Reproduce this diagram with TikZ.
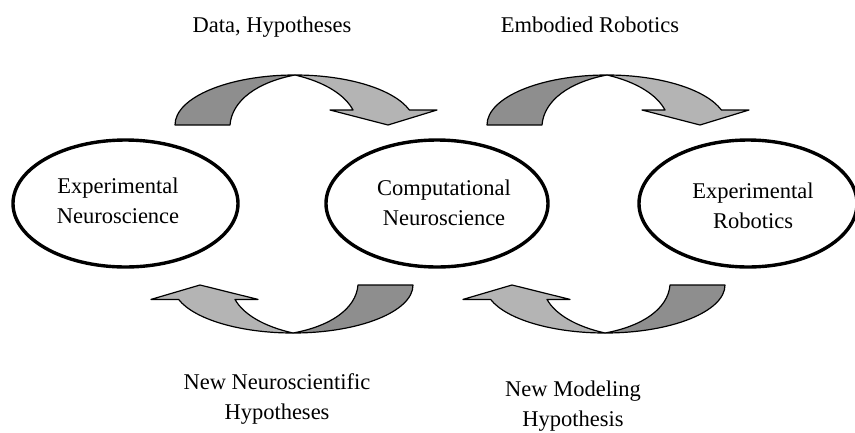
\documentclass[tikz,border=0pt]{standalone}
\usepackage{fontspec}
\setmainfont{Liberation Serif}
\usetikzlibrary{shapes.geometric}

\definecolor{bandback}{RGB}{142,142,142}
\definecolor{bandfront}{RGB}{180,180,180}

\tikzset{
  field/.style={ellipse, draw, line width=3.4pt, minimum width=#1,
    minimum height=127pt, inner sep=0pt},
  areatext/.style={font=\fontsize{22.5}{30}\selectfont, align=center, inner sep=0pt},
  bandline/.style={draw=black, line width=1.2pt, line join=round},
  % curved ribbon arrow; origin is the crest where the two bands cross
  bendarrow/.pic={
    \path[bandline, fill=bandback]
      (-120,50) .. controls (-120,22.4) and (-66.3,0) .. (0,0)
      .. controls (-37,7) and (-63,25) .. (-65,50) -- cycle;
    \path[bandline, fill=bandfront]
      (0,0) .. controls (52.4,0) and (98.7,14.1) .. (114.4,35)
      -- (142,35) -- (93,50) -- (35,35) -- (58,35)
      .. controls (50,20) and (30,7) .. (0,0) -- cycle;
  }
}

\begin{document}
\begin{tikzpicture}[x=1pt, y=-1pt]
  \useasboundingbox (0,0) rectangle (855,432);

  % research fields
  \node[field=225pt] (expneuro) at (125.5,203.5) {};
  \node[field=222pt] (compneuro) at (437,203.5) {};
  \node[field=218pt] (exprobo) at (748,203.5) {};

  % two-line texts: base anchor sits on the last line
  \node[areatext, anchor=base] (expneurotext) at (118,223) {Experimental\\Neuroscience};
  \node[areatext, anchor=base] (compneurotext) at (444,225) {Computational\\Neuroscience};
  \node[areatext, anchor=base] (exprobotext) at (753,228) {Experimental\\Robotics};

  % exchanges between the fields
  \pic (dataarrow) at (295,75) {bendarrow};
  \pic (embodiedarrow) at (607,75) {bendarrow};
  \pic[rotate=180, yscale=0.96] (neuroarrow) at (293,333) {bendarrow};
  \pic[rotate=180, yscale=0.96] (modelarrow) at (605,333) {bendarrow};

  \node[areatext, anchor=base] (datatext) at (272,32) {Data, Hypotheses};
  \node[areatext, anchor=base] (embodiedtext) at (590,32) {Embodied Robotics};
  \node[areatext, anchor=base] (neurotext) at (277,419) {New Neuroscientific\\Hypotheses};
  \node[areatext, anchor=base] (modeltext) at (573,426) {New Modeling\\Hypothesis};
\end{tikzpicture}
\end{document}
